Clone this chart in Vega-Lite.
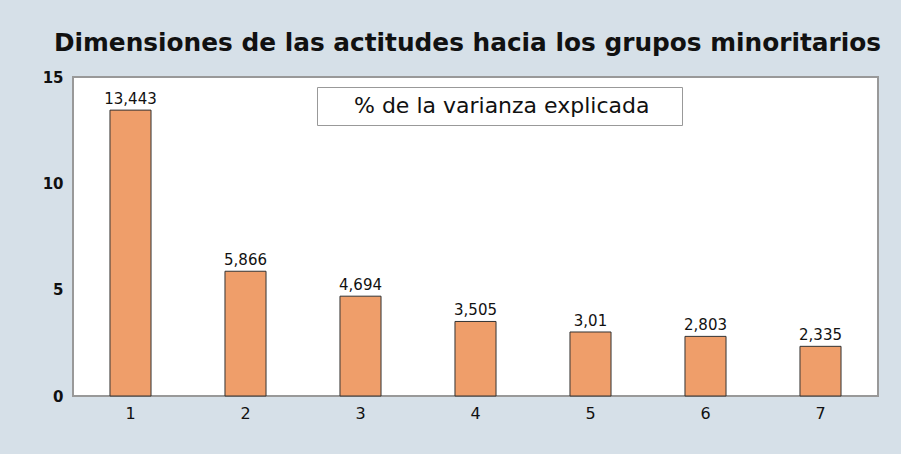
{
  "$schema": "https://vega.github.io/schema/vega-lite/v6.json",
  "width": 805,
  "height": 319,
  "autosize": {"type": "none"},
  "padding": {"left": 73, "top": 77, "right": 23, "bottom": 58},
  "background": "#d6e0e8",
  "title": {
    "text": "Dimensiones de las actitudes hacia los grupos minoritarios",
    "font": "DejaVu Sans",
    "fontSize": 24.8,
    "fontWeight": "bold",
    "color": "#111111",
    "anchor": "middle",
    "offset": 14,
    "dx": -8
  },
  "config": {
    "view": {"stroke": "#999999", "strokeWidth": 2, "fill": "white"},
    "font": "DejaVu Sans"
  },
  "data": {
    "values": [
      {"dim": "1", "valor": 13.443, "etiqueta": "13,443", "serie": "% de la varianza explicada"},
      {"dim": "2", "valor": 5.866, "etiqueta": "5,866", "serie": "% de la varianza explicada"},
      {"dim": "3", "valor": 4.694, "etiqueta": "4,694", "serie": "% de la varianza explicada"},
      {"dim": "4", "valor": 3.505, "etiqueta": "3,505", "serie": "% de la varianza explicada"},
      {"dim": "5", "valor": 3.01, "etiqueta": "3,01", "serie": "% de la varianza explicada"},
      {"dim": "6", "valor": 2.803, "etiqueta": "2,803", "serie": "% de la varianza explicada"},
      {"dim": "7", "valor": 2.335, "etiqueta": "2,335", "serie": "% de la varianza explicada"}
    ]
  },
  "encoding": {
    "x": {
      "field": "dim",
      "type": "nominal",
      "scale": {"paddingInner": 0.643, "paddingOuter": 0.3215},
      "axis": {
        "title": null,
        "labelAngle": 0,
        "labelFont": "DejaVu Sans",
        "labelFontSize": 16,
        "labelColor": "#111111",
        "labelPadding": 9,
        "ticks": false,
        "domain": false,
        "grid": false
      }
    },
    "y": {
      "field": "valor",
      "type": "quantitative",
      "scale": {"domain": [0, 15], "nice": false},
      "axis": {
        "title": null,
        "values": [0, 5, 10, 15],
        "labelFont": "DejaVu Sans",
        "labelFontSize": 15,
        "labelFontWeight": "bold",
        "labelColor": "#111111",
        "labelPadding": 10,
        "ticks": false,
        "domain": false,
        "grid": false
      }
    }
  },
  "layer": [
    {
      "mark": {"type": "bar", "stroke": "#333333", "strokeWidth": 1},
      "encoding": {
        "color": {
          "field": "serie",
          "type": "nominal",
          "scale": {"range": ["#ef9e6a"]},
          "legend": {
            "title": null,
            "orient": "none",
            "legendX": 244,
            "legendY": 10,
            "fillColor": "white",
            "strokeColor": "#999999",
            "padding": 8,
            "symbolType": "square",
            "symbolSize": 400,
            "symbolOpacity": 0,
            "symbolStrokeWidth": 0,
            "symbolOffset": 328,
            "labelOffset": -321,
            "labelFont": "DejaVu Sans",
            "labelFontSize": 22,
            "labelColor": "#111111",
            "labelLimit": 500,
            "encode": {"legend": {"update": {"strokeWidth": {"value": 2}}}}
          }
        }
      }
    },
    {
      "mark": {"type": "text", "baseline": "bottom", "dy": -3, "fontSize": 15, "font": "DejaVu Sans", "color": "#111111"},
      "encoding": {"text": {"field": "etiqueta"}}
    }
  ]
}
